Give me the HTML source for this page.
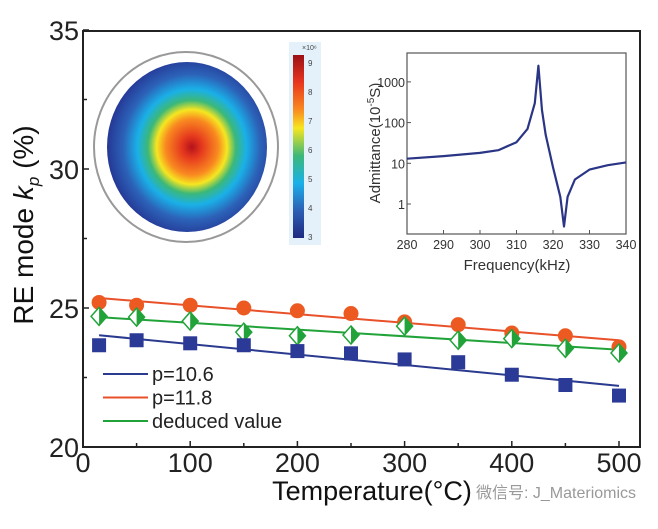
<!DOCTYPE html>
<html><head><meta charset="utf-8"><style>
body{margin:0;background:#fff;}
svg text{font-family:"Liberation Sans",sans-serif;}
</style></head><body>
<svg width="658" height="524" viewBox="0 0 658 524" xmlns="http://www.w3.org/2000/svg">
<defs>
<radialGradient id="heat" cx="0.53" cy="0.5" r="0.55">
<stop offset="0" stop-color="#b5121b"/><stop offset="0.12" stop-color="#e63a1e"/><stop offset="0.3" stop-color="#f98a20"/><stop offset="0.4" stop-color="#f6e621"/><stop offset="0.5" stop-color="#3cb878"/><stop offset="0.62" stop-color="#1ab0e8"/><stop offset="0.78" stop-color="#2c62b8"/><stop offset="1" stop-color="#232f8e"/>
</radialGradient>
<linearGradient id="cbar" x1="0" y1="0" x2="0" y2="1">
<stop offset="0" stop-color="#9b0f16"/><stop offset="0.15" stop-color="#e8361e"/><stop offset="0.3" stop-color="#f98a20"/><stop offset="0.4" stop-color="#f6e621"/><stop offset="0.55" stop-color="#3cb878"/><stop offset="0.7" stop-color="#1ab0e8"/><stop offset="0.85" stop-color="#2c5fb5"/><stop offset="1" stop-color="#1e2a80"/>
</linearGradient>
</defs>
<g id="main"></g>
<g id="inset"></g>
</svg>
<script>
const ns="http://www.w3.org/2000/svg";
const temps=[15,50,100,150,200,250,300,350,400,450,500];
const red=[25.2,25.1,25.1,25.0,24.9,24.8,24.5,24.4,24.1,24.0,23.6];
const blue=[23.66,23.84,23.73,23.66,23.45,23.37,23.15,23.05,22.6,22.23,21.85];
const green=[24.7,24.67,24.53,24.13,24.0,24.03,24.35,23.84,23.9,23.55,23.38];
const fitX=[15,500];
const redFit=[25.36,23.84];
const blueFit=[24.02,22.2];
const greenFit=[24.67,23.5];
const xTicks=[0,100,200,300,400,500];
const yTicks=[20,25,30,35];
const freq=[280,290,300,305,310,313,315,316,317,318,320,322,323,324,326,330,335,340];
const adm=[13,15,18,21,33,70,300,2500,200,50,8,1.5,0.28,1.5,4,7,9,10.5];
const fTicks=[280,290,300,310,320,330,340];
const aTicks=[1,10,100,1000];

const L=83,R=640,T=31,B=447;
const X=v=>L+v*1.072;
const Y=v=>B-(v-20)*27.8;
function mk(p,tag,a,name,txt){const e=document.createElementNS(ns,tag);for(const k in a)e.setAttribute(k,a[k]);


if(txt!==undefined)e.textContent=txt;p.appendChild(e);return e;}
const g=document.getElementById('main');
mk(g,'ellipse',{cx:186,cy:147,rx:92,ry:95,fill:'#fff',stroke:'#999','stroke-width':2},'disk-outline');
mk(g,'ellipse',{cx:187,cy:147,rx:80,ry:85,fill:'url(#heat)'},'heatmap-disk');
mk(g,'rect',{x:289,y:42,width:32,height:203,fill:'#e4f1fa'},'colorbar-panel');
mk(g,'rect',{x:293,y:55,width:11,height:183,fill:'url(#cbar)'},'colorbar');
mk(g,'text',{x:302,y:50,'font-size':7,fill:'#444'},'colorbar-exponent','×10⁶');
[9,8,7,6,5,4,3].forEach((v,i)=>mk(g,'text',{x:308,y:66+i*29,'font-size':8,fill:'#444'},'colorbar-label',String(v)));
mk(g,'rect',{x:L,y:T,width:R-L,height:B-T,fill:'none',stroke:'#222','stroke-width':2},'plot-frame');
xTicks.forEach(v=>{mk(g,'line',{x1:X(v),x2:X(v),y1:B,y2:B-6,stroke:'#222','stroke-width':1.5},'x-tick');
mk(g,'text',{x:X(v),y:472,'font-size':27,'text-anchor':'middle',fill:'#222'},'x-tick-label',String(v));});
[50,150,250,350,450].forEach(v=>mk(g,'line',{x1:X(v),x2:X(v),y1:B,y2:B-4,stroke:'#222','stroke-width':1.5},'x-minor-tick'));
yTicks.forEach(v=>{mk(g,'line',{x1:L,x2:L+6,y1:Y(v),y2:Y(v),stroke:'#222','stroke-width':1.5},'y-tick');
mk(g,'text',{x:79,y:Y(v)+10,'font-size':27,'text-anchor':'end',fill:'#222'},'y-tick-label',String(v));});
[22.5,27.5,32.5].forEach(v=>mk(g,'line',{x1:L,x2:L+4,y1:Y(v),y2:Y(v),stroke:'#222','stroke-width':1.5},'y-minor-tick'));
mk(g,'text',{x:372,y:500,'font-size':27,'text-anchor':'middle',fill:'#111'},'x-axis-title','Temperature(°C)');
const yt=mk(g,'text',{transform:'translate(33,225) rotate(-90)','font-size':28,'text-anchor':'middle',fill:'#111'},'y-axis-title');
yt.innerHTML='RE mode <tspan font-style="italic">k</tspan><tspan font-style="italic" font-size="17" dy="6">p</tspan><tspan dy="-6"> (%)</tspan>';
mk(g,'line',{x1:X(fitX[0]),y1:Y(redFit[0]),x2:X(fitX[1]),y2:Y(redFit[1]),stroke:'#e8512a','stroke-width':2},'fit-red');
mk(g,'line',{x1:X(fitX[0]),y1:Y(greenFit[0]),x2:X(fitX[1]),y2:Y(greenFit[1]),stroke:'#22a33a','stroke-width':2},'fit-green');
mk(g,'line',{x1:X(fitX[0]),y1:Y(blueFit[0]),x2:X(fitX[1]),y2:Y(blueFit[1]),stroke:'#2a3a8f','stroke-width':2},'fit-blue');
temps.forEach((t,i)=>{
mk(g,'circle',{cx:X(t),cy:Y(red[i]),r:7.5,fill:'#ec5a22'},'point-red');
const x=X(t),y=Y(green[i]);
mk(g,'path',{d:`M${x},${y-9}L${x+8},${y}L${x},${y+9}L${x-8},${y}Z`,fill:'#fff',stroke:'#22a33a','stroke-width':1.5},'point-green');
mk(g,'path',{d:`M${x},${y-9}L${x+8},${y}L${x},${y+9}Z`,fill:'#22a33a'},'point-green-half');
mk(g,'rect',{x:X(t)-7,y:Y(blue[i])-7,width:14,height:14,fill:'#2b3a97'},'point-blue');
});
[['#2a3a8f','p=10.6'],['#e8512a','p=11.8'],['#22a33a','deduced value']].forEach((d,i)=>{
const y=374+i*23.5;
mk(g,'line',{x1:103,x2:148,y1:y,y2:y,stroke:d[0],'stroke-width':2},'legend-line');
mk(g,'text',{x:152,y:y+7,'font-size':20,fill:'#222'},'legend-label',d[1]);});
mk(g,'text',{x:476,y:498,'font-size':16,fill:'#999'},'watermark','微信号: J_Materiomics').setAttribute('font-family','"Liberation Sans","Noto Sans CJK SC",sans-serif');
const h=document.getElementById('inset');
const iL=407,iR=626,iT=53,iB=234;
const FX=f=>iL+(f-280)/60*(iR-iL);
const AY=a=>204-Math.log10(a)*40.7;
mk(h,'rect',{x:iL,y:iT,width:iR-iL,height:iB-iT,fill:'#fff',stroke:'#555','stroke-width':1.2},'inset-frame');
fTicks.forEach(f=>{mk(h,'line',{x1:FX(f),x2:FX(f),y1:iB,y2:iB-4,stroke:'#555'},'inset-x-tick');
mk(h,'text',{x:FX(f),y:iB+15,'font-size':12.5,'text-anchor':'middle',fill:'#333'},'inset-x-tick-label',String(f));});
aTicks.forEach(a=>{mk(h,'line',{x1:iL,x2:iL+4,y1:AY(a),y2:AY(a),stroke:'#555'},'inset-y-tick');
mk(h,'text',{x:iL-2,y:AY(a)+5,'font-size':12.5,'text-anchor':'end',fill:'#333'},'inset-y-tick-label',String(a));});
mk(h,'text',{x:517,y:270,'font-size':15,'text-anchor':'middle',fill:'#333'},'inset-x-title','Frequency(kHz)');
const it=mk(h,'text',{transform:'translate(380,143) rotate(-90)','font-size':15,'text-anchor':'middle',fill:'#333'},'inset-y-title');
it.innerHTML='Admittance(10<tspan font-size="10" dy="-6">-5</tspan><tspan dy="6">S)</tspan>';
mk(h,'path',{d:freq.map((f,i)=>(i?'L':'M')+FX(f).toFixed(1)+','+AY(adm[i]).toFixed(1)).join(''),fill:'none',stroke:'#2a3585','stroke-width':2.2,'stroke-linejoin':'round'},'admittance-curve');
</script>
</body></html>
